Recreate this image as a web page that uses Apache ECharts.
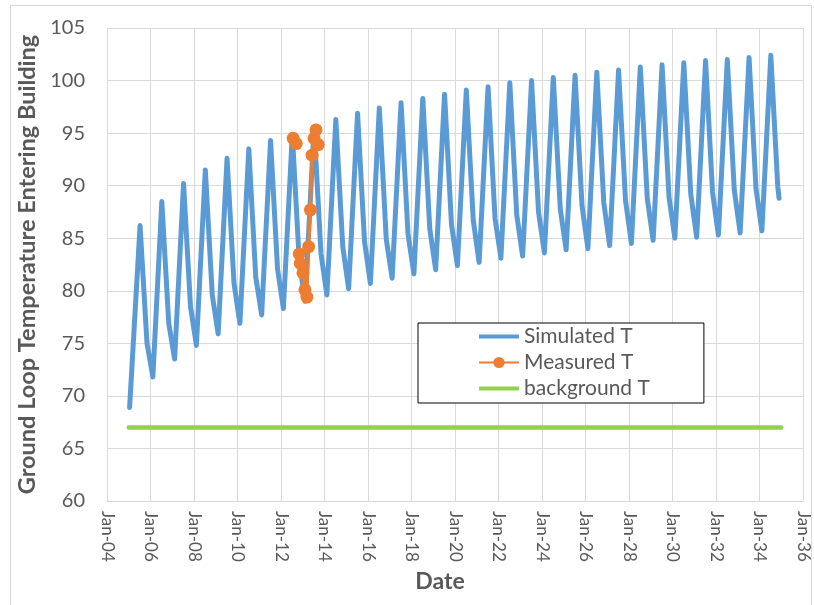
<!DOCTYPE html>
<html>
<head>
<meta charset="utf-8">
<script src="https://cdn.jsdelivr.net/npm/echarts@6/dist/echarts.min.js"></script>
<style>
  html, body { margin: 0; padding: 0; background: #fff; }
  #chart { width: 814px; height: 605px; }
</style>
</head>
<body>
<div id="chart"></div>
<script>
// simulated loop temperature, one cycle per year (2005 .. 2034)
const simYears = [2005, 2006, 2007, 2008, 2009, 2010, 2011, 2012, 2013, 2014,
  2015, 2016, 2017, 2018, 2019, 2020, 2021, 2022, 2023, 2024,
  2025, 2026, 2027, 2028, 2029, 2030, 2031, 2032, 2033, 2034]
// summer peak (Jul / Aug)
const simPeak = [86.2, 88.5, 90.2, 91.5, 92.6, 93.5, 94.3, 94.9, 95.6, 96.3,
  96.9, 97.4, 97.9, 98.3, 98.7, 99.1, 99.4, 99.8, 100.0, 100.3,
  100.5, 100.8, 101.0, 101.3, 101.5, 101.7, 101.9, 102.0, 102.2, 102.4]
// autumn knee (Nov)
const simShoulder = [75.0, 76.9, 78.5, 79.6, 80.7, 81.3, 82.1, 82.8, 83.5, 84.2,
  84.7, 84.9, 85.4, 85.9, 86.3, 86.7, 86.9, 87.2, 87.5, 87.8,
  88.1, 88.4, 88.6, 88.8, 88.9, 89.2, 89.4, 89.6, 89.7, 89.9]
// winter low (Feb of the following year, 2006 .. 2034)
const simTrough = [71.8, 73.5, 74.8, 75.9, 76.9, 77.7, 78.3, 79.0, 79.6,
  80.2, 80.7, 81.2, 81.6, 82.0, 82.4, 82.7, 83.1, 83.3, 83.6,
  83.9, 84.0, 84.3, 84.5, 84.8, 85.0, 85.1, 85.3, 85.5, 85.7]
const simStart = [68.9, 69.0]   // Jan, Feb 2005
const simEnd = 88.8             // Dec 2034

// measured points (decimal year), null = gap in the record
const measTime = [2012.56, 2012.70, null, 2012.84, 2012.89, 2013.01, 2013.10, 2013.19,
  2013.27, 2013.35, 2013.43, 2013.52, 2013.61, 2013.71]
const measVal = [94.5, 94.0, null, 83.5, 82.6, 81.7, 80.1, 79.4,
  84.2, 87.7, 92.9, 94.5, 95.3, 93.9]

const bgTime = [2005.0, 2035.0]
const bgVal = [67, 67]

const yTicks = { min: 60, max: 105, step: 5 }

// build the series
const simData = [[2005.04, simStart[0]], [2005.11, simStart[1]]]
simYears.forEach((yr, i) => {
  simData.push([yr + 0.52, simPeak[i]])
  simData.push([yr + 0.58, simPeak[i]])
  simData.push([yr + 0.84, simShoulder[i]])
  if (i < simTrough.length) simData.push([yr + 1.11, simTrough[i]])
})
simData.push([2034.9, simEnd])

const measData = measTime.map((t, i) => t === null ? ['-', '-'] : [t, measVal[i]])
const bgData = bgTime.map((t, i) => [t, bgVal[i]])

const font = 'Lato, "Open Sans", sans-serif'
const grey = '#595959'
const lineIcon = 'path://M0,0 L40,0 L40,4 L0,4 Z'

const chart = echarts.init(document.getElementById('chart'))
chart.setOption({
  animation: false,
  textStyle: { fontFamily: font },
  grid: { left: 107, right: 11, top: 28, bottom: 104 },
  graphic: [{
    type: 'rect',
    shape: { x: 10.5, y: 5.5, width: 801, height: 620 },
    style: { fill: 'none', stroke: '#d9d9d9', lineWidth: 1 },
    silent: true
  }],
  legend: {
    orient: 'vertical',
    left: 418,
    top: 323,
    padding: [3, 54, 4, 60],
    itemGap: 5,
    itemWidth: 40,
    itemHeight: 14,
    backgroundColor: '#fff',
    borderColor: '#000',
    borderWidth: 1,
    textStyle: { fontSize: 21, color: grey, fontFamily: font },
    data: [
      { name: 'Simulated T', icon: lineIcon },
      { name: 'Measured T' },
      { name: 'background T', icon: lineIcon }
    ]
  },
  xAxis: {
    type: 'value',
    min: 2004,
    max: 2036,
    interval: 2,
    name: 'Date',
    nameLocation: 'middle',
    nameGap: 68,
    nameTextStyle: { fontSize: 23, fontWeight: 'bold', color: grey, fontFamily: font, padding: [0, 30, 0, 0] },
    axisLine: { lineStyle: { color: '#d9d9d9' } },
    axisTick: { show: false },
    axisLabel: {
      rotate: -90,
      margin: 10,
      fontSize: 17,
      color: grey,
      formatter: v => 'Jan-' + String(v).slice(2)
    },
    splitLine: { show: true, lineStyle: { color: '#d9d9d9' } }
  },
  yAxis: {
    type: 'value',
    min: yTicks.min,
    max: yTicks.max,
    interval: yTicks.step,
    name: 'Ground Loop Temperature Entering Building',
    nameLocation: 'middle',
    nameRotate: 90,
    nameGap: 66,
    nameTextStyle: { fontSize: 23.5, fontWeight: 'bold', color: grey, fontFamily: font },
    axisLine: { show: true, lineStyle: { color: '#d9d9d9' } },
    axisTick: { show: false },
    axisLabel: { fontSize: 20, color: grey, margin: 22 },
    splitLine: { lineStyle: { color: '#d9d9d9' } }
  },
  series: [
    {
      name: 'Simulated T',
      type: 'line',
      data: simData,
      symbol: 'none',
      itemStyle: { color: '#5B9BD5' },
      lineStyle: { color: '#5B9BD5', width: 5, join: 'round', cap: 'round' }
    },
    {
      name: 'Measured T',
      type: 'line',
      data: measData,
      connectNulls: false,
      symbol: 'circle',
      symbolSize: 13,
      itemStyle: { color: '#ED7D31' },
      lineStyle: { color: '#ED7D31', width: 3 }
    },
    {
      name: 'background T',
      type: 'line',
      data: bgData,
      symbol: 'none',
      itemStyle: { color: '#92D050' },
      lineStyle: { color: '#92D050', width: 4.5, cap: 'round' }
    }
  ]
})
</script>
</body>
</html>
